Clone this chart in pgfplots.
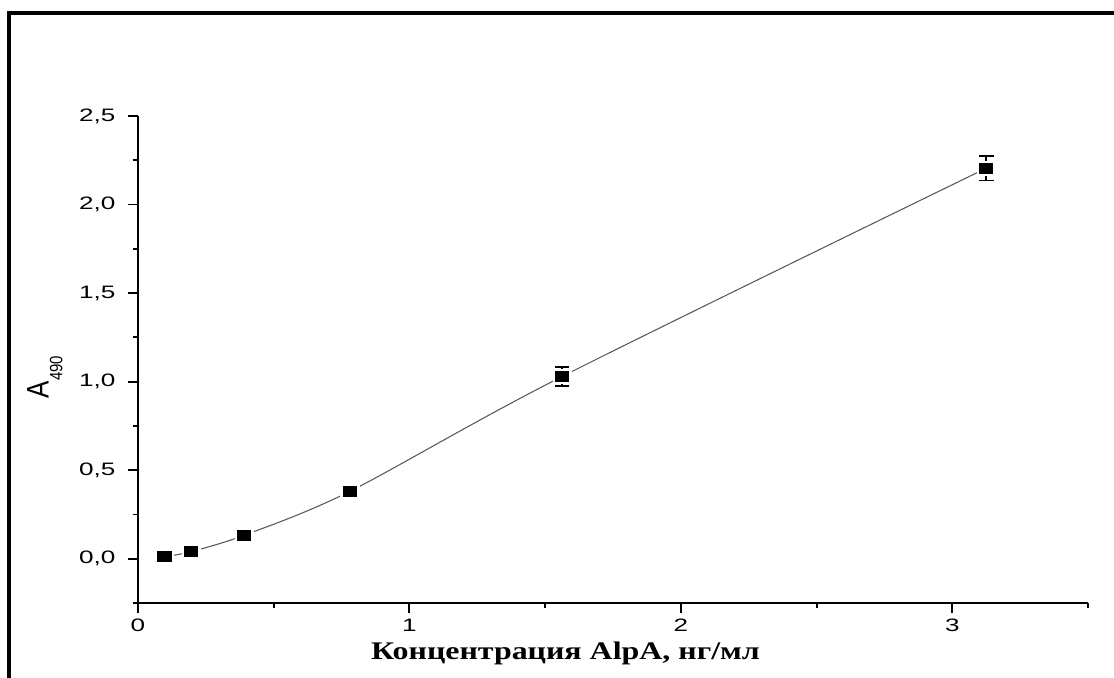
\documentclass[border=0pt]{standalone}
\usepackage{fontspec}
\setmainfont{Liberation Sans}
\newfontfamily\timesf{Liberation Serif}
\usepackage{pgfplots}
\pgfplotsset{compat=1.18}
\begin{document}
\begin{tikzpicture}
\path[use as bounding box] (0,0) rectangle (835.5pt,508.5pt);
\draw[line width=3pt] (7.1pt,0) -- (7.1pt,498.4pt) -- (835.5pt,498.4pt);
\begin{axis}[
  at={(103.5pt,56.25pt)}, anchor=south west,
  scale only axis, width=712.5pt, height=365.25pt,
  xmin=0, xmax=3.5, ymin=-0.25, ymax=2.5,
  axis lines*=left,
  axis line style={line width=1.4pt, -},
  every tick/.style={black, line width=1.4pt},
  tick align=outside,
  major tick length=7.5pt, minor tick length=4pt,
  xtick={0,1,2,3}, xticklabels={0,1,2,3},
  minor xtick={0.5,1.5,2.5,3.5},
  ytick={0,0.5,1,1.5,2,2.5},
  yticklabels={{0,0},{0,5},{1,0},{1,5},{2,0},{2,5}},
  minor ytick={-0.25,0.25,0.75,1.25,1.75,2.25},
  tick label style={font=\fontsize{13.5}{15}\selectfont, xscale=1.45},
  xticklabel style={yshift=-1pt},
  yticklabel style={xshift=-3pt},
  xlabel={\timesf\bfseries\fontsize{19}{22}\selectfont Концентрация AlpA, нг/мл},
  xlabel style={at={(axis description cs:0.45,-0.117)}, anchor=base, xscale=1.26},
  ylabel={{\fontsize{19.5}{22}\selectfont A}\raisebox{-8.5pt}{\fontsize{11.2}{13}\selectfont 490}},
  ylabel style={at={(axis description cs:-0.098,0.464)}, anchor=center, yscale=1.2},
  clip=false,
]
\addplot[gray!70!black, line width=0.8pt, smooth, no marks] coordinates {
 (0.098,0.011) (0.195,0.04) (0.39,0.132) (0.78,0.38) (1.5625,1.029) (3.125,2.205)};
\addplot[only marks, mark=square*, mark size=6.8pt, mark options={draw=white, fill=white, yscale=0.8}] coordinates {
 (0.098,0.011) (0.195,0.04) (0.39,0.132) (0.78,0.38) (1.5625,1.029) (3.125,2.205)};
\addplot[only marks, mark=square*, mark size=5pt, mark options={draw=black, fill=black, line width=0pt, yscale=0.75},
  error bars/.cd, y dir=both, y explicit,
  error bar style={line width=1.1pt, black},
  error mark options={rotate=90, mark size=5.5pt, line width=1.1pt, black}] coordinates {
 (0.098,0.011) (0.195,0.04) (0.39,0.132) (0.78,0.38)
 (1.5625,1.029) +- (0,0.053) (3.125,2.205) +- (0,0.07)};
\end{axis}
\end{tikzpicture}
\end{document}
